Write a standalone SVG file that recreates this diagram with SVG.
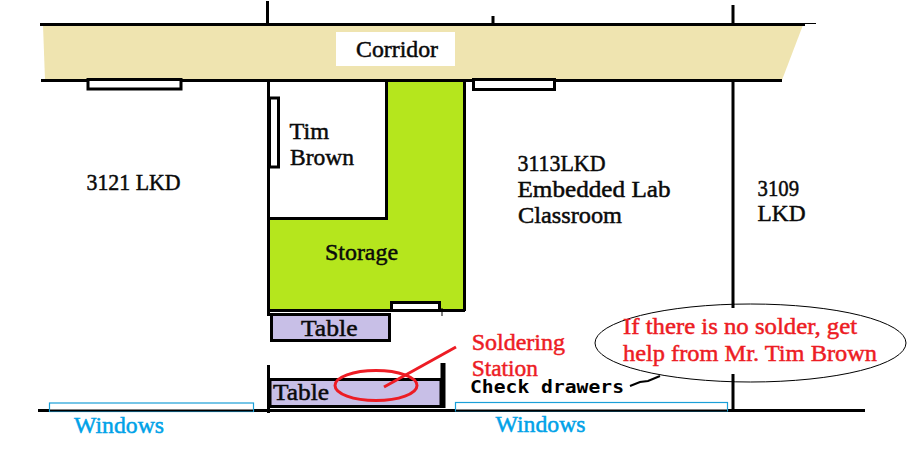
<svg xmlns="http://www.w3.org/2000/svg" width="922" height="472" viewBox="0 0 922 472">
<style>
text{font-family:"Liberation Serif",serif;font-size:24px;fill:#0a0a0a;stroke:#0a0a0a;stroke-width:.5;}
.red{fill:#ed1c24;stroke:#ed1c24}
.blue{fill:#00a2e8;stroke:#00a2e8}
.wall{stroke:#000;stroke-width:3;fill:none}
.door{stroke:#000;stroke-width:3;fill:#fff}
.table{stroke:#000;stroke-width:3;fill:#c8bfe7}
.win{stroke:#1a9fd8;stroke-width:1.2;fill:#fff}
.mark{stroke:#ed1c24;stroke-width:3;fill:none}
</style>
<rect width="922" height="472" fill="#fff"/>
<g id="corridor">
<polygon points="43,25 803,25 782,80 45,80" fill="#efe4b0"/>
<rect x="336" y="32" width="119" height="34" fill="#fff"/>
<text x="356" y="56.500" textLength="82" lengthAdjust="spacingAndGlyphs">Corridor</text>
</g>
<g id="storage">
<polygon points="387,81 465,81 465,310 269,310 269,218 387,218" fill="#b5e61d"/>
<path class="wall" d="M386.500 81V218.500H268M464.500 81V311M268 310.500H465"/>
<text x="325" y="259.500" textLength="73" lengthAdjust="spacingAndGlyphs">Storage</text>
</g>
<g id="walls">
<path class="wall" d="M40 24.500H805M41 80.500H782M267.500 1V26M268.500 80V316M268.500 365V413M733 5V24M733 80V308M733 374V410M493 16V24M38 410.500H865"/>
<path d="M805 23.500H816M442 308V316" stroke="#000" stroke-width="1" fill="none"/>
</g>
<g id="window-left"><rect class="win" x="49.500" y="403" width="204" height="8.500"/><path d="M50 410.500H253" stroke="#000" stroke-width="2"/><text class="blue" x="74" y="433" textLength="90" lengthAdjust="spacingAndGlyphs">Windows</text></g>
<g id="window-right"><rect class="win" x="455.500" y="402.500" width="272" height="8.500"/><path d="M456 410.500H727" stroke="#000" stroke-width="2"/><text class="blue" x="495.500" y="432" textLength="90" lengthAdjust="spacingAndGlyphs">Windows</text></g>
<g id="door-3121"><rect class="door" x="88" y="79.500" width="93" height="9.500"/></g>
<g id="door-3113"><rect class="door" x="473.500" y="79.500" width="81" height="10"/></g>
<g id="door-tim"><rect class="door" x="269.500" y="98" width="9" height="69"/></g>
<g id="door-storage"><rect class="door" x="391.500" y="302.500" width="48" height="8"/></g>
<g id="room-tim"><text x="289.500" y="138.500" textLength="39.500" lengthAdjust="spacingAndGlyphs">Tim</text><text x="290" y="164.500" textLength="64" lengthAdjust="spacingAndGlyphs">Brown</text></g>
<g id="room-3121"><text x="86.500" y="189.500" textLength="94" lengthAdjust="spacingAndGlyphs">3121 LKD</text></g>
<g id="room-3113"><text x="517.500" y="170.500" textLength="88" lengthAdjust="spacingAndGlyphs">3113LKD</text><text x="517.500" y="196.500" textLength="153" lengthAdjust="spacingAndGlyphs">Embedded Lab</text><text x="518" y="222.500" textLength="104" lengthAdjust="spacingAndGlyphs">Classroom</text></g>
<g id="room-3109"><text x="757.500" y="195.500" textLength="41.500" lengthAdjust="spacingAndGlyphs">3109</text><text x="757.500" y="221" textLength="48" lengthAdjust="spacingAndGlyphs">LKD</text></g>
<g id="table-1"><rect class="table" x="271.500" y="314.500" width="118" height="26"/><text x="301" y="335.500" textLength="56.500" lengthAdjust="spacingAndGlyphs">Table</text></g>
<g id="table-2">
<path class="table" d="M270 379.500H441V406.500H270Z"/>
<path d="M443 363V408" stroke="#000" stroke-width="5"/>
<text x="273" y="399.500" textLength="56" lengthAdjust="spacingAndGlyphs">Table</text>
</g>
<g id="soldering-station">
<ellipse class="mark" cx="376" cy="385.500" rx="41" ry="15"/>
<path class="mark" d="M384 387L456 347"/>
<text class="red" x="471.700" y="349.500" textLength="93.300" lengthAdjust="spacingAndGlyphs">Soldering</text>
<text class="red" x="471.700" y="375.500" textLength="66.300" lengthAdjust="spacingAndGlyphs">Station</text>
</g>
<g id="check-drawers">
<text x="470" y="393" textLength="154" lengthAdjust="spacingAndGlyphs" style="font-family:'DejaVu Sans Mono',monospace;font-size:17.500px;font-weight:bold;stroke:none;fill:#000">Check drawers</text>
</g>
<g id="callout">
<ellipse cx="750.500" cy="343" rx="155.500" ry="39" fill="none" stroke="#000" stroke-width="1"/>
<text class="red" x="623" y="334" textLength="234" lengthAdjust="spacingAndGlyphs">If there is no solder, get</text>
<text class="red" x="623" y="360.500" textLength="254" lengthAdjust="spacingAndGlyphs">help from Mr. Tim Brown</text>
</g>
<g id="connectors">
<path d="M630 386L640 382L648 381L660 376" fill="none" stroke="#000" stroke-width="2"/>
</g>
</svg>
